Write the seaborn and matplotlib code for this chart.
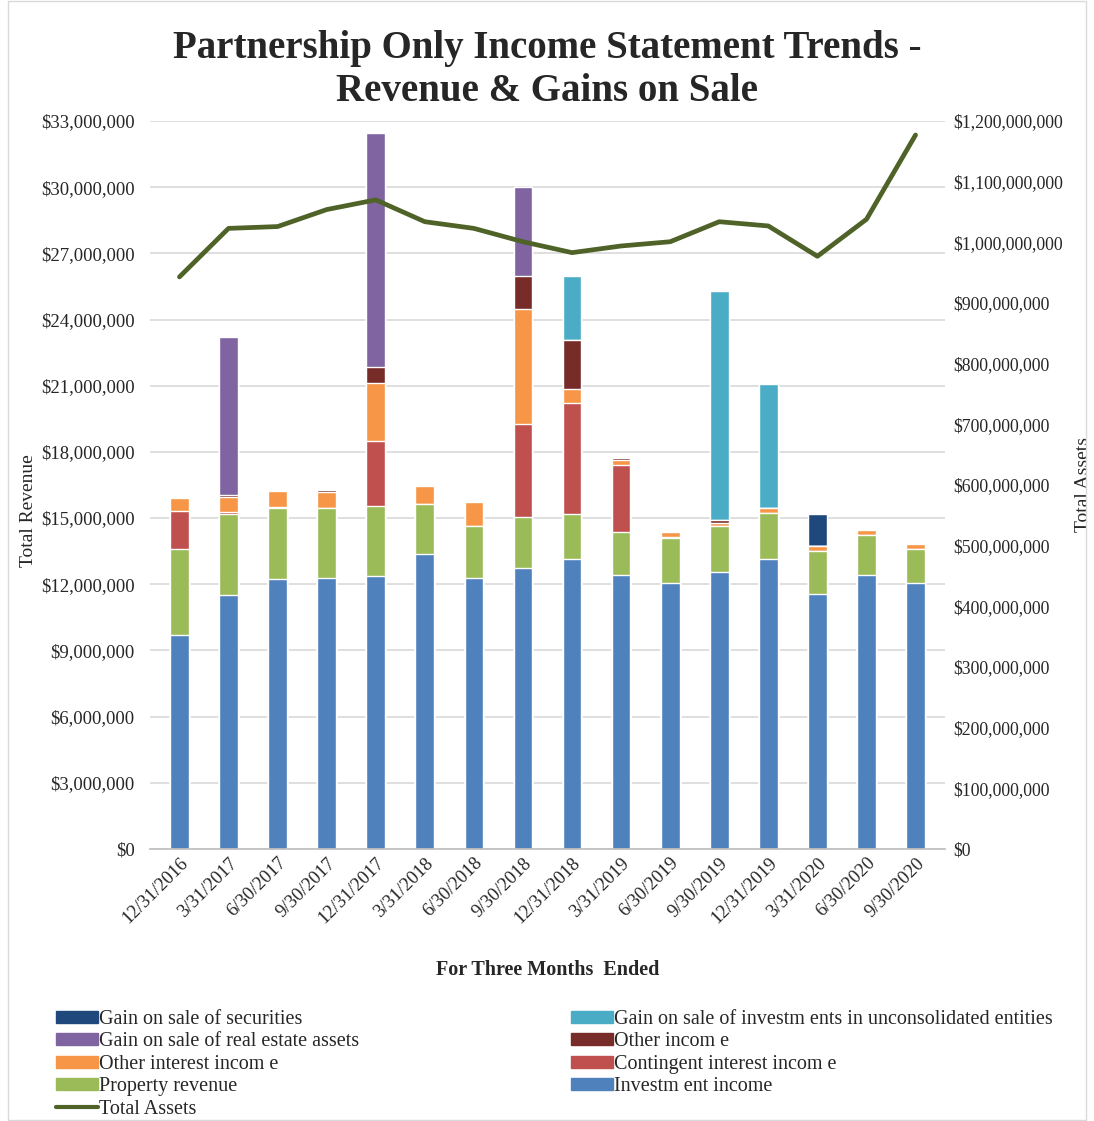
import numpy as np
import pandas as pd
import matplotlib
matplotlib.use("Agg")
import matplotlib.pyplot as plt
import seaborn as sns
from matplotlib.ticker import FuncFormatter
from matplotlib.lines import Line2D
from matplotlib.patches import Patch, Rectangle

periods = ["12/31/2016", "3/31/2017", "6/30/2017", "9/30/2017", "12/31/2017",
           "3/31/2018", "6/30/2018", "9/30/2018", "12/31/2018", "3/31/2019",
           "6/30/2019", "9/30/2019", "12/31/2019", "3/31/2020", "6/30/2020", "9/30/2020"]

# values in $ millions
investment_income = [9.70, 11.51, 12.22, 12.30, 12.38, 13.37, 12.27, 12.72,
                     13.15, 12.42, 12.04, 12.57, 13.15, 11.56, 12.42, 12.04]
property_revenue = [3.88, 3.68, 3.25, 3.17, 3.17, 2.25, 2.37, 2.31,
                    2.04, 1.96, 2.04, 2.07, 2.09, 1.96, 1.81, 1.54]
contingent_interest = [1.74, 0.10, 0.05, 0.00, 2.96, 0.00, 0.00, 4.22,
                       5.04, 3.03, 0.05, 0.00, 0.00, 0.00, 0.00, 0.00]
other_interest = [0.58, 0.68, 0.73, 0.73, 2.63, 0.85, 1.07, 5.21,
                  0.61, 0.22, 0.25, 0.12, 0.23, 0.22, 0.23, 0.23]
other_income = [0.00, 0.08, 0.00, 0.07, 0.69, 0.00, 0.06, 1.51,
                2.23, 0.08, 0.00, 0.15, 0.00, 0.00, 0.00, 0.07]
gain_real_estate = [0.00, 7.17, 0.00, 0.00, 10.61, 0.00, 0.00, 4.05,
                    0.00, 0.00, 0.00, 0.00, 0.00, 0.00, 0.00, 0.00]
gain_unconsolidated = [0.00, 0.00, 0.00, 0.00, 0.00, 0.00, 0.00, 0.00,
                       2.90, 0.00, 0.00, 10.40, 5.63, 0.00, 0.00, 0.00]
gain_securities = [0.00, 0.00, 0.00, 0.00, 0.00, 0.00, 0.00, 0.00,
                   0.00, 0.00, 0.00, 0.00, 0.00, 1.43, 0.00, 0.00]

total_assets = [943, 1023, 1026, 1054, 1070, 1034, 1023, 1001,
                983, 994, 1001, 1034, 1027, 977, 1038, 1177]  # $ millions

series_names = ["Investment income", "Property revenue", "Contingent interest income",
                "Other interest income", "Other income", "Gain on sale of real estate assets",
                "Gain on sale of investments in unconsolidated entities", "Gain on sale of securities"]
series_vals = [investment_income, property_revenue, contingent_interest, other_interest,
               other_income, gain_real_estate, gain_unconsolidated, gain_securities]
series_colors = ["#4F81BD", "#9BBB59", "#C0504D", "#F79646", "#772C2A",
                 "#8064A2", "#4BACC6", "#1F497D"]
legend_labels = {
    "Investment income": "Investm ent income",
    "Property revenue": "Property revenue",
    "Contingent interest income": "Contingent interest incom e",
    "Other interest income": "Other interest incom e",
    "Other income": "Other incom e",
    "Gain on sale of real estate assets": "Gain on sale of real estate assets",
    "Gain on sale of investments in unconsolidated entities": "Gain on sale of investm ents in unconsolidated entities",
    "Gain on sale of securities": "Gain on sale of securities",
}

sns.set_theme(style="white")
plt.rcParams["font.family"] = ["Liberation Serif", "DejaVu Serif"]

fig = plt.figure(figsize=(10.94, 11.21), dpi=100)
ax = fig.add_axes([150 / 1094, 1 - 849 / 1121, 795 / 1094, 728 / 1121])

df = pd.DataFrame({name: np.array(v) * 1e6 for name, v in zip(series_names, series_vals)})
df["period"] = periods
cum = df[series_names].cumsum(axis=1)

# draw cumulative tops from highest layer down so lower layers cover upper ones
for name, color in reversed(list(zip(series_names, series_colors))):
    sns.barplot(x=df["period"], y=cum[name], color=color, width=0.38,
                saturation=1, ax=ax, order=periods)

ax.set_ylim(0, 33e6)
ax.set_yticks(np.arange(0, 33e6 + 1, 3e6))
ax.yaxis.set_major_formatter(FuncFormatter(lambda v, p: f"${v:,.0f}"))
ax.set_xlim(-0.6, len(periods) - 0.4)
ax.grid(axis="y", color="#D9D9D9", linewidth=1.2)
ax.set_axisbelow(True)
for s in ["top", "left", "right"]:
    ax.spines[s].set_visible(False)
ax.spines["bottom"].set_color("#BFBFBF")
ax.tick_params(axis="y", labelsize=13.5, length=0, pad=11)
ax.tick_params(axis="x", labelsize=13.5, length=0, pad=4)
plt.setp(ax.get_xticklabels(), rotation=45, ha="right", rotation_mode="anchor")
ax.set_xlabel("For Three Months  Ended", fontsize=14.5, fontweight="bold", labelpad=24)
ax.set_ylabel("Total Revenue", fontsize=14)
ax.yaxis.set_label_coords(-0.142, 0.465)

ax2 = ax.twinx()
sns.lineplot(x=np.arange(len(periods)), y=np.array(total_assets) * 1e6, ax=ax2,
             color="#4F6228", linewidth=3.4)
ax2.set_ylim(0, 1.2e9)
ax2.set_yticks(np.arange(0, 1.2e9 + 1, 1e8))
ax2.yaxis.set_major_formatter(FuncFormatter(lambda v, p: f"${v:,.0f}"))
ax2.tick_params(axis="y", labelsize=12.8, length=0, pad=6)
ax2.set_ylabel("Total Assets", fontsize=14, rotation=90)
ax2.yaxis.set_label_coords(1.164, 0.5)
for s in ["top", "left", "right", "bottom"]:
    ax2.spines[s].set_visible(False)
ax2.set_xlim(ax.get_xlim())
ax2.grid(False)

fig.suptitle("Partnership Only Income Statement Trends -\nRevenue & Gains on Sale",
             fontsize=28, fontweight="bold", y=0.973, linespacing=1.2)

# legend: two columns placed explicitly
cmap = dict(zip(series_names, series_colors))
col1 = ["Gain on sale of securities", "Gain on sale of real estate assets",
        "Other interest income", "Property revenue"]
col2 = ["Gain on sale of investments in unconsolidated entities", "Other income",
        "Contingent interest income", "Investment income"]
h1 = [Patch(color=cmap[n]) for n in col1] + [Line2D([0], [0], color="#4F6228", linewidth=3)]
l1 = [legend_labels[n] for n in col1] + ["Total Assets"]
h2 = [Patch(color=cmap[n]) for n in col2]
l2 = [legend_labels[n] for n in col2]
leg_kw = dict(loc="upper left", frameon=False, fontsize=14.5, handlelength=2.1,
              handleheight=0.55, handletextpad=0.05, labelspacing=0.17, borderpad=0,
              borderaxespad=0)
fig.legend(h1, l1, bbox_to_anchor=(56 / 1094, 1 - 1010 / 1121), **leg_kw)
fig.legend(h2, l2, bbox_to_anchor=(571 / 1094, 1 - 1010 / 1121), **leg_kw)

fig.patches.append(Rectangle((8 / 1094, 0.001), 1078 / 1094, 0.998, transform=fig.transFigure,
                             fill=False, edgecolor="#D9D9D9", linewidth=1))

fig.savefig("out.png", dpi=100)
